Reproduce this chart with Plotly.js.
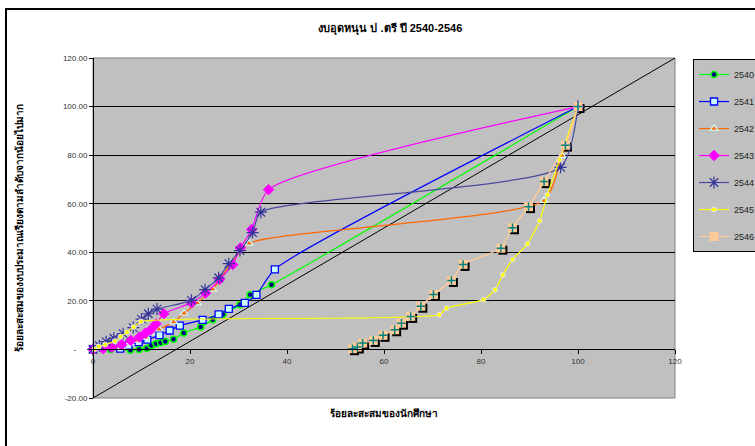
<!DOCTYPE html>
<html><head><meta charset="utf-8">
<script src="https://cdn.plot.ly/plotly-3.0.1.min.js"></script>
<style>
html,body{margin:0;padding:0;width:755px;height:446px;overflow:hidden;background:#fff;}
#chart{width:755px;height:446px;}
#frame{position:absolute;left:5px;top:8px;width:900px;height:600px;border-left:2px solid #000;border-top:2px solid #000;pointer-events:none;}
</style></head>
<body>
<div id="chart"></div>
<div id="frame"></div>
<script>
// ---- data ----
const seriesNames = ['2540','2541','2542','2543','2544','2545','2546'];

const x2540 = [3.6, 7.7, 9.5, 11.1, 12.0, 13.0, 13.9, 14.9, 16.6, 18.7, 22.2, 24.7, 26.8, 30.3, 32.4, 36.8, 100];
const y2540 = [0.0, -0.3, 0.0, 0.4, 1.6, 2.3, 2.8, 3.3, 4.2, 6.8, 9.2, 12.2, 14.4, 18.4, 22.5, 26.6, 100];

const x2541 = [0, 5.6, 7.3, 9.4, 11.2, 13.7, 15.8, 17.9, 22.6, 25.9, 28.0, 31.3, 33.7, 37.5, 100];
const y2541 = [0, 0.3, 1.6, 3.0, 4.0, 5.9, 7.8, 9.8, 12.2, 14.4, 16.7, 19.2, 22.5, 33.0, 100];

const x2542 = [0, 5.9, 7.7, 9.0, 10.9, 11.8, 13.6, 16.6, 18.8, 21.5, 24.7, 28.5, 32.2, 93.0, 96.7, 100];
const y2542 = [0, 0.9, 2.6, 3.7, 5.0, 6.7, 8.3, 11.3, 14.9, 19.1, 24.7, 35.5, 43.7, 61.3, 79.8, 100];

const x2543 = [0, 2.1, 3.9, 5.9, 7.8, 9.6, 10.8, 11.9, 13.0, 14.6, 20.3, 23.2, 26.1, 28.8, 30.4, 32.7, 36.2, 100];
const y2543 = [0, 0.3, 0.9, 1.9, 3.7, 5.1, 6.7, 8.1, 10.5, 14.7, 19.2, 23.2, 28.8, 34.9, 41.8, 49.4, 65.8, 100];

const x2544 = [0, 1.3, 2.7, 4.3, 6.2, 8.3, 10.0, 11.4, 13.2, 20.3, 23.1, 25.9, 28.0, 30.3, 32.9, 34.6, 96.4, 100];
const y2544 = [0, 1.5, 3.2, 4.6, 6.5, 9.0, 12.5, 14.7, 16.6, 20.2, 24.6, 29.5, 35.3, 40.7, 48.1, 56.5, 75.0, 100];

const x2545 = [0.3, 1.2, 2.5, 4.5, 5.7, 7.0, 8.4, 9.9, 71.4, 72.9, 80.5, 82.9, 84.5, 86.5, 89.6, 92.1, 93.7, 96.2, 100];
const y2545 = [0.1, 1.2, 2.0, 3.4, 5.3, 7.1, 9.2, 11.5, 14.3, 17.0, 20.5, 24.6, 30.7, 37.0, 43.5, 53.0, 63.7, 78.1, 100];

const x2546 = [53.5, 54.5, 55.6, 57.8, 59.8, 62.2, 63.6, 65.5, 67.6, 70.2, 73.9, 76.3, 84.1, 86.5, 89.8, 93.0, 97.4, 100];
const y2546 = [0.3, 1.0, 2.6, 3.7, 5.8, 8.1, 10.8, 13.6, 17.8, 22.6, 28.4, 35.0, 41.7, 50.1, 58.8, 69.1, 84.1, 100];

const diagX = [0, 120];
const diagY = [-20, 120];

const xTicks = [0, 20, 40, 60, 80, 100, 120];
const xTickText = ['0', '20', '40', '60', '80', '100', '120'];
const yTicks = [-20, 0, 20, 40, 60, 80, 100, 120];
const yTickText = ['-20.00', '-\u00a0\u00a0\u00a0\u00a0\u00a0', '20.00', '40.00', '60.00', '80.00', '100.00', '120.00'];

const chartTitle = 'งบอุดหนุน ป .ตรี ปี 2540-2546';
const xTitle = 'ร้อยละสะสมของนักศึกษา';
const yTitle = 'ร้อยละสะสมของงบประมาณเรียงตามลำดับจากน้อยไปมาก';

// ---- traces ----
const FONT = 'Arial, "Liberation Sans", sans-serif';
function line(name, xs, ys, lineColor, marker) {
  return {type:'scatter', mode:'lines+markers', name:name, x:xs, y:ys,
    xaxis:'x2', yaxis:'y2', legendgroup:name,
    line:{color:lineColor, width:1.2, shape:'spline', smoothing:0.6},
    marker:marker, cliponaxis:false};
}
const traces = [
  // shadow of 2546 squares (drawn on the shifted base axes)
  {type:'scatter', mode:'markers', x:x2546, y:y2546, xaxis:'x', yaxis:'y',
    showlegend:false, hoverinfo:'skip',
    marker:{symbol:'square', size:9, color:'#000000'}},
  {type:'scatter', mode:'lines', x:diagX, y:diagY, xaxis:'x2', yaxis:'y2',
    showlegend:false, line:{color:'#000000', width:1}},
  line(seriesNames[0], x2540, y2540, '#00FF00',
    {symbol:'circle', size:6, color:'#000080', line:{color:'#00FF00', width:1.5}}),
  line(seriesNames[1], x2541, y2541, '#0000FF',
    {symbol:'square', size:7, color:'#CCFFFF', line:{color:'#0000FF', width:1.3}}),
  line(seriesNames[2], x2542, y2542, '#FF6600',
    {symbol:'triangle-up', size:7, color:'#FF6600', line:{color:'#CCFFFF', width:1.2}}),
  line(seriesNames[3], x2543, y2543, '#FF00FF',
    {symbol:'diamond', size:8, color:'#FF00FF', line:{color:'#FF00FF', width:1}}),
  line(seriesNames[4], x2544, y2544, '#4B4B9E',
    {symbol:'asterisk-open', size:10, color:'#333399', line:{color:'#333399', width:1.2}}),
  line(seriesNames[5], x2545, y2545, '#FFFF00',
    {symbol:'circle', size:5, color:'#FFFF00', line:{color:'#DDDDFF', width:1}}),
  line(seriesNames[6], x2546, y2546, '#FFCC99',
    {symbol:'square', size:9, color:'#FFCC99', line:{color:'#FFCC99', width:0}}),
  {type:'scatter', mode:'markers', x:x2546, y:y2546, xaxis:'x2', yaxis:'y2',
    showlegend:false, hoverinfo:'skip',
    marker:{symbol:'cross-thin-open', size:6, color:'#008080', line:{color:'#008080', width:1.5}}}
];

const layout = {
  width:755, height:446,
  margin:{l:93, r:80, t:58, b:48, autoexpand:false},
  paper_bgcolor:'rgba(0,0,0,0)',
  plot_bgcolor:'#C0C0C0',
  font:{family:FONT, size:8, color:'#222'},
  showlegend:true,
  title:{text:chartTitle, x:0.517, xanchor:'center', y:0.937, yanchor:'middle',
    font:{family:FONT, size:11, weight:'bold', color:'#000'}},
  // base axes (shifted by a few pixels; only carry the shadow marks)
  xaxis:{range:[-0.41, 119.59], visible:false, fixedrange:true},
  yaxis:{range:[-19.18, 120.82], visible:false, fixedrange:true},
  xaxis2:{overlaying:'x', range:[0,120], anchor:'free', position:20/140,
    tickvals:xTicks, ticktext:xTickText, ticks:'outside', ticklen:4, tickcolor:'#000',
    showline:true, linecolor:'#000', linewidth:1, showgrid:false, zeroline:false,
    tickfont:{size:8, color:'#333'}, fixedrange:true,
    title:{text:xTitle, standoff:44, font:{family:FONT, size:10, weight:'bold', color:'#000'}}},
  yaxis2:{overlaying:'y', range:[-20,120], anchor:'free', position:0, side:'left',
    tickvals:yTicks, ticktext:yTickText, ticks:'outside', ticklen:4, tickcolor:'#000',
    showline:true, linecolor:'#000', linewidth:1, showgrid:true, gridcolor:'#000', gridwidth:1,
    zeroline:false, tickfont:{size:8, color:'#333'}, fixedrange:true,
    title:{text:yTitle, standoff:36, font:{family:FONT, size:10, weight:'bold', color:'#000'}}},
  shapes:[{type:'rect', xref:'paper', yref:'paper', x0:0, x1:1, y0:0, y1:1,
    line:{color:'#808080', width:1}, layer:'below'}],
  legend:{x:1.031, y:0.997, xanchor:'left', yanchor:'top',
    bgcolor:'#C0C0C0', bordercolor:'#000', borderwidth:1,
    font:{family:FONT, size:9, color:'#222'}, traceorder:'grouped', tracegroupgap:8,
    itemwidth:30}
};

Plotly.newPlot('chart', traces, layout, {displayModeBar:false, staticPlot:true});
</script>
</body></html>
